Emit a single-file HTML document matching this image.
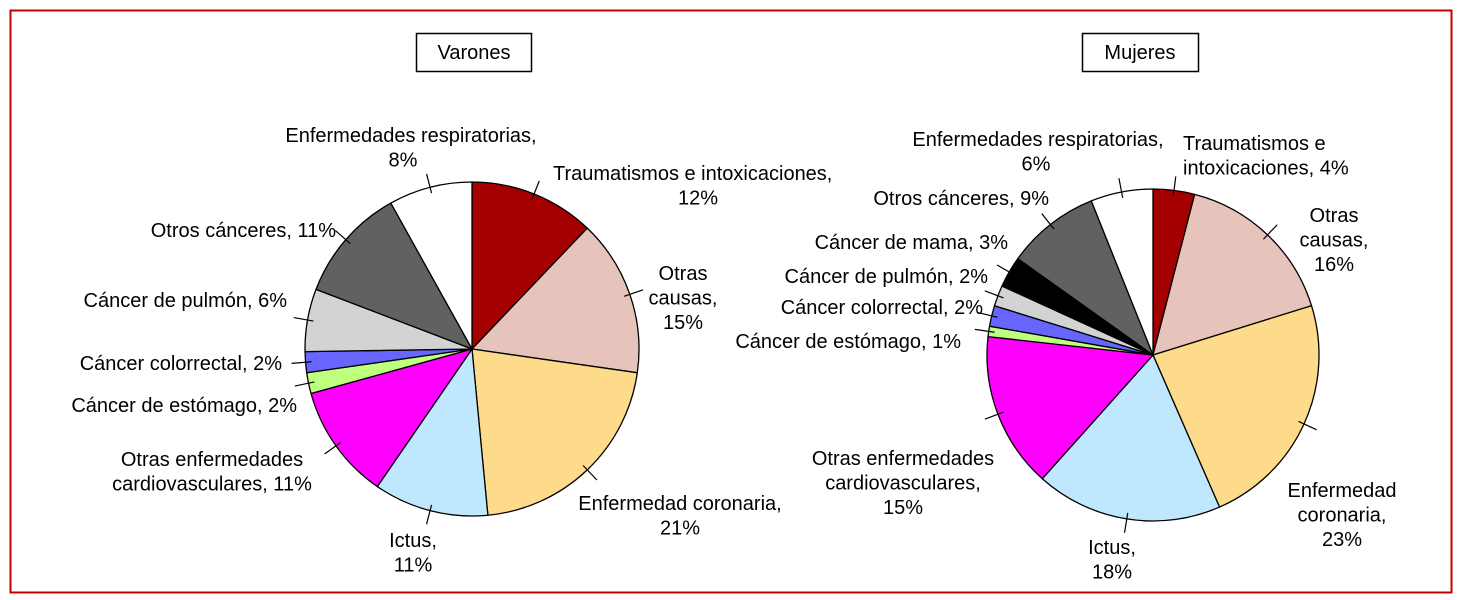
<!DOCTYPE html>
<html><head><meta charset="utf-8"><style>
html,body{margin:0;padding:0;background:#fff;}
svg{display:block;font-family:"Liberation Sans Narrow","Liberation Sans",sans-serif;}
</style></head><body>
<svg id="chart" width="1462" height="600" viewBox="0 0 1462 600">
<rect x="10.5" y="10.5" width="1441" height="582" fill="#fff" stroke="#c00000" stroke-width="2"/>
<g><rect x="416.5" y="33.5" width="115" height="38" fill="#fff" stroke="#000" stroke-width="1.5"/><text x="474" y="59" text-anchor="middle" font-size="20">Varones</text></g>
<g><rect x="1082.5" y="33.5" width="116" height="38" fill="#fff" stroke="#000" stroke-width="1.5"/><text x="1140" y="59" text-anchor="middle" font-size="20">Mujeres</text></g>
<g id="pies"></g>
</svg>
<script>
const menCategories=["Traumatismos e intoxicaciones","Otras causas","Enfermedad coronaria","Ictus","Otras enfermedades cardiovasculares","Cáncer de estómago","Cáncer colorrectal","Cáncer de pulmón","Otros cánceres","Enfermedades respiratorias"];
const menValues=[12,15,21,11,11,2,2,6,11,8];
const menColors=["#a50000","#e6c4bc","#fedb8a","#bfe7fd","#ff00ff","#bfff80","#6666ff","#d3d3d3","#5f625f","#ffffff"];
const menLabels=[
 {lines:["Traumatismos e intoxicaciones,","12%"],x:[553,718],y:180,a:["start","end"]},
 {lines:["Otras","causas,","15%"],x:683,y:280,a:"middle"},
 {lines:["Enfermedad coronaria,","21%"],x:680,y:510,a:"middle"},
 {lines:["Ictus,","11%"],x:413,y:547,a:"middle"},
 {lines:["Otras enfermedades","cardiovasculares, 11%"],x:212,y:466,a:"middle"},
 {lines:["Cáncer de estómago, 2%"],x:297,y:412,a:"end"},
 {lines:["Cáncer colorrectal, 2%"],x:282,y:370,a:"end"},
 {lines:["Cáncer de pulmón, 6%"],x:287,y:307,a:"end"},
 {lines:["Otros cánceres, 11%"],x:336,y:237,a:"end"},
 {lines:["Enfermedades respiratorias,","8%"],x:[411,403],y:142,a:"middle"}
];
const womenCategories=["Traumatismos e intoxicaciones","Otras causas","Enfermedad coronaria","Ictus","Otras enfermedades cardiovasculares","Cáncer de estómago","Cáncer colorrectal","Cáncer de pulmón","Cáncer de mama","Otros cánceres","Enfermedades respiratorias"];
const womenValues=[4,16,23,18,15,1,2,2,3,9,6];
const womenColors=["#a50000","#e6c4bc","#fedb8a","#bfe7fd","#ff00ff","#bfff80","#6666ff","#d3d3d3","#000000","#5f625f","#ffffff"];
const womenLabels=[
 {lines:["Traumatismos e","intoxicaciones, 4%"],x:1183,y:150,a:"start"},
 {lines:["Otras","causas,","16%"],x:1334,y:222,a:"middle"},
 {lines:["Enfermedad","coronaria,","23%"],x:1342,y:497,a:"middle"},
 {lines:["Ictus,","18%"],x:1112,y:554,a:"middle"},
 {lines:["Otras enfermedades","cardiovasculares,","15%"],x:903,y:465,a:"middle"},
 {lines:["Cáncer de estómago, 1%"],x:961,y:348,a:"end"},
 {lines:["Cáncer colorrectal, 2%"],x:983,y:314,a:"end"},
 {lines:["Cáncer de pulmón, 2%"],x:988,y:283,a:"end"},
 {lines:["Cáncer de mama, 3%"],x:1008,y:249,a:"end"},
 {lines:["Otros cánceres, 9%"],x:1049,y:205,a:"end"},
 {lines:["Enfermedades respiratorias,","6%"],x:[1038,1036],y:146,a:"middle"}
];
const NS="http://www.w3.org/2000/svg";
const root=document.getElementById('pies');
function mk(t,at,p){const e=document.createElementNS(NS,t);for(const k in at)e.setAttribute(k,at[k]);p.appendChild(e);return e;}
function slug(s){return s.toLowerCase().normalize('NFD').replace(/[\u0300-\u036f]/g,'').replace(/[^a-z0-9]+/g,'-').replace(/^-|-$/g,'');}
function pie(prefix,cx,cy,r,cats,vals,cols,labels){
 const g=mk('g',{},root);
 
 
 const tot=vals.reduce((a,b)=>a+b,0);
 let acc=0;
 const pt=(f,rr)=>[cx+rr*Math.sin(f*2*Math.PI),cy-rr*Math.cos(f*2*Math.PI)];
 vals.forEach((v,i)=>{
  const f0=acc/tot,f1=(acc+v)/tot;acc+=v;
  const p0=pt(f0,r),p1=pt(f1,r);
  const d=`M${cx},${cy}L${p0[0]},${p0[1]}A${r},${r} 0 ${(f1-f0)>0.5?1:0} 1 ${p1[0]},${p1[1]}Z`;
  const s=mk('path',{d:d,fill:cols[i],stroke:'#000','stroke-width':1.3,'stroke-linejoin':'round'},g);
  
  
  const fm=(f0+f1)/2,a=pt(fm,r-6),b=pt(fm,r+14);
  const ln=mk('line',{x1:a[0],y1:a[1],x2:b[0],y2:b[1],stroke:'#000','stroke-width':1.2},g);
  
  
  const L=labels[i];
  const tg=mk('g',{},g);
  
  
  L.lines.forEach((t,j)=>{
   const x=Array.isArray(L.x)?L.x[j]:L.x,an=Array.isArray(L.a)?L.a[j]:L.a;
   const te=mk('text',{x:x,y:L.y+j*24.5,'text-anchor':an,'font-size':20},tg);
   te.textContent=t;
  });
 });
}
pie('varones',472,349,167,menCategories,menValues,menColors,menLabels);
pie('mujeres',1153,355,166,womenCategories,womenValues,womenColors,womenLabels);
</script>
</body></html>
